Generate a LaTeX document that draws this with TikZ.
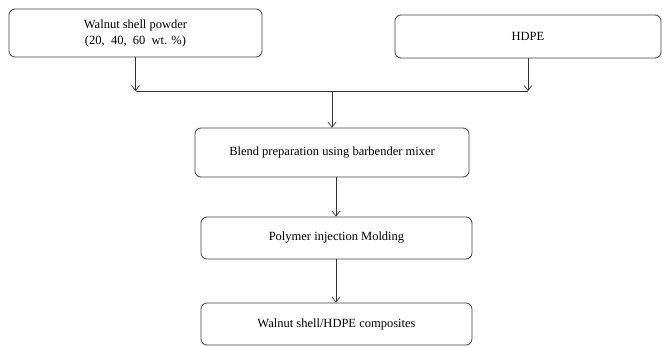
\documentclass[tikz,border=0pt]{standalone}
\usepackage{fontspec}
\setmainfont{Liberation Serif}
\usetikzlibrary{arrows.meta}
\begin{document}
\begin{tikzpicture}[x=1pt,y=-1pt,
  stepbox/.style={draw=black!75,line width=0.8pt,rounded corners=6pt,inner sep=0pt,align=center,font=\fontsize{12.5}{16}\selectfont},
  conn/.style={draw=black!80,line width=0.7pt},
  arr/.style={conn,-{Straight Barb[length=5pt,width=8pt,line width=0.7pt]}}]
\useasboundingbox (0,0) rectangle (662,347);
\node[stepbox,minimum width=253pt,minimum height=48pt] (wsp) at (135.5,33) {Walnut shell powder\\(20,\ \ 40,\ \ 60\ \ wt. \%)};
\node[stepbox,minimum width=266pt,minimum height=43pt] (hdpe) at (528,36.5) {HDPE};
\node[stepbox,minimum width=274pt,minimum height=49pt] (blend) at (332,152.5) {Blend preparation using barbender mixer};
\node[stepbox,minimum width=271pt,minimum height=42pt] (mold) at (336.5,238) {Polymer injection Molding};
\node[stepbox,minimum width=271pt,minimum height=42pt] (comp) at (336.5,324) {Walnut shell/HDPE composites};
\coordinate (jl) at (wsp.south |- 0,91);
\coordinate (jr) at (hdpe.south |- 0,91);
\coordinate (jm) at (blend.north |- 0,91);
\draw[arr] (wsp.south) -- (jl);
\draw[arr] (hdpe.south) -- (jr);
\draw[conn] (jl) -- (jr);
\draw[arr] (jm) -- (blend.north);
\draw[arr] (blend.south -| 336,0) -- (mold.north -| 336,0);
\draw[arr] (mold.south -| 336,0) -- (comp.north -| 336,0);
\end{tikzpicture}
\end{document}
